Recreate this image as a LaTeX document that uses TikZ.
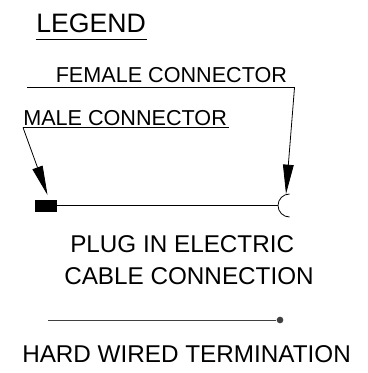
\documentclass[tikz,border=0pt]{standalone}
\usepackage{tikz}
\usepackage{xcolor}
\usepackage{fontspec}
\setmainfont{Liberation Sans}
\usetikzlibrary{arrows.meta}

\tikzset{
  label text/.style={anchor=base west, inner sep=0pt, font=\fontsize{16.2}{16}\selectfont},
  big text/.style={anchor=base west, inner sep=0pt, font=\fontsize{18.2}{18}\selectfont},
  leader/.style={line width=0.6pt, -{Triangle[length=22pt, width=8pt]}},
}

\begin{document}
\begin{tikzpicture}[x=0.75pt, y=-0.75pt]
  \useasboundingbox (0,0) rectangle (367,373);

  % title
  \node[label text, font=\fontsize{20}{20}\selectfont] (legend) at (36,33) {LEGEND};
  \draw[line width=0.6pt] (35.5,39.5) -- (147,39.5);

  % plug in connection
  \node[draw, fill=black, minimum width=16pt, minimum height=8pt, inner sep=0pt] (male) at (46,205.5) {};
  \coordinate (female) at (278,205.5);
  \draw[line width=0.6pt] (male) -- (female);
  \draw[line width=0.6pt] (289.5,194) arc (270:90:11.5);

  % female leader
  \node[label text] (femaletext) at (55.5,83) {FEMALE CONNECTOR};
  \coordinate (femalestart) at (27,87.5);
  \coordinate (femalecorner) at (294.5,87.5);
  \coordinate (femaletip) at (286,194);
  \draw[line width=0.6pt] (femalestart) -- (femalecorner);
  \draw[leader] (femalecorner) -- (femaletip);

  % male leader
  \node[label text] (maletext) at (23,126) {MALE CONNECTOR};
  \coordinate (malestart) at (23,127.5);
  \coordinate (maleend) at (229,127.5);
  \coordinate (maletip) at (47.5,195);
  \draw[line width=0.6pt] (malestart) -- (maleend);
  \draw[leader] (malestart) -- (maletip);

  \node[big text] (plugtext) at (70,252) {PLUG IN ELECTRIC};
  \node[big text] (cabletext) at (64,284) {CABLE CONNECTION};

  % hard wired
  \coordinate (wirestart) at (48,320);
  \node[circle, fill=black!75, minimum size=5pt, inner sep=0pt] (wiredot) at (280,320) {};
  \draw[line width=0.5pt, black!75] (wirestart) -- (wiredot);
  \node[big text] (hardtext) at (22,362.5) {HARD WIRED TERMINATION};

\end{tikzpicture}
\end{document}
